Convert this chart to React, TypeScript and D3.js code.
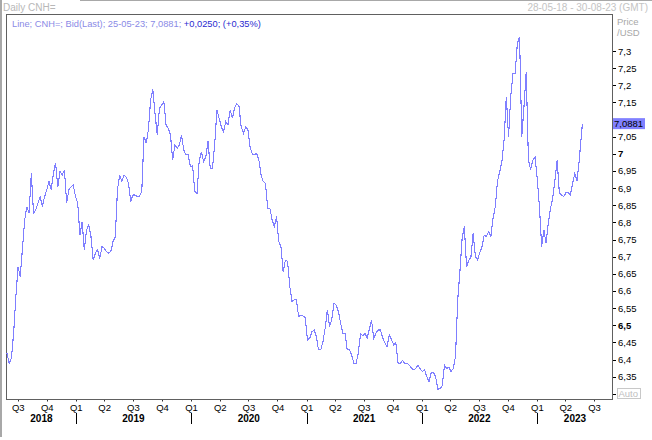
/** App.tsx - CNH= daily bid line chart */
import React from 'react';
import * as d3 from 'd3';

// weekly bids (Mondays), first week starts 28-05-18
const firstWeek = '2018-05-28';
const bids2018 = [
  6.418, 6.389, 6.404, 6.477, 6.583, 6.671, 6.642, 6.725, 6.807, 6.846, 6.827,
  6.943, 6.827, 6.836, 6.856, 6.875, 6.846, 6.875, 6.895, 6.919, 6.895, 6.943,
  6.974, 6.904, 6.948, 6.938, 6.953, 6.856, 6.895, 6.904, 6.909, 6.875,
];
const bids2019 = [
  6.856, 6.763, 6.802, 6.72, 6.778, 6.793, 6.759, 6.69, 6.71, 6.72, 6.695,
  6.729, 6.725, 6.715, 6.71, 6.715, 6.744, 6.758, 6.895, 6.938, 6.919, 6.938,
  6.932, 6.914, 6.861, 6.88, 6.88, 6.875, 6.877, 6.89, 7.05, 7.031, 7.07, 7.157,
  7.188, 7.118, 7.055, 7.133, 7.143, 7.152, 7.084, 7.075, 7.055, 6.982, 7.026,
  7.016, 7.026, 7.055, 7.011, 6.997, 6.997, 6.963,
];
const bids2020 = [
  6.965, 6.89, 6.885, 6.98, 7.006, 6.977, 6.992, 7.036, 6.958, 6.958, 7.026,
  7.128, 7.104, 7.079, 7.065, 7.094, 7.084, 7.128, 7.104, 7.133, 7.147, 7.138,
  7.079, 7.06, 7.078, 7.072, 7.021, 7.0, 6.997, 7.002, 6.982, 6.938, 6.919,
  6.914, 6.841, 6.841, 6.807, 6.788, 6.817, 6.744, 6.729, 6.656, 6.69, 6.686,
  6.613, 6.569, 6.574, 6.574, 6.525, 6.53, 6.527, 6.523,
];
const bids2021 = [
  6.457, 6.462, 6.481, 6.486, 6.467, 6.428, 6.428, 6.452, 6.491, 6.545, 6.496,
  6.516, 6.564, 6.559, 6.54, 6.506, 6.477, 6.477, 6.428, 6.428, 6.413, 6.389,
  6.389, 6.418, 6.475, 6.469, 6.477, 6.462, 6.488, 6.515, 6.462, 6.477, 6.486,
  6.486, 6.465, 6.449, 6.438, 6.472, 6.459, 6.443, 6.449, 6.389, 6.389, 6.397,
  6.389, 6.389, 6.384, 6.376, 6.37, 6.374, 6.384, 6.373,
];
const bids2022 = [
  6.365, 6.37, 6.35, 6.336, 6.362, 6.362, 6.35, 6.313, 6.316, 6.323, 6.384,
  6.374, 6.377, 6.365, 6.374, 6.409, 6.574, 6.657, 6.754, 6.788, 6.671, 6.689,
  6.7, 6.768, 6.7, 6.691, 6.712, 6.729, 6.763, 6.759, 6.773, 6.759, 6.812,
  6.846, 6.919, 6.948, 6.977, 7.041, 7.167, 7.05, 7.167, 7.235, 7.235, 7.323,
  7.34, 7.05, 7.138, 7.24, 6.982, 6.953, 6.982, 6.99,
];
const bids2023 = [
  6.926, 6.846, 6.729, 6.778, 6.739, 6.798, 6.841, 6.87, 6.924, 6.982, 6.885,
  6.88, 6.875, 6.887, 6.888, 6.88, 6.914, 6.943, 6.922, 6.982, 7.055,
];
const lastDate = '2023-05-25';
const lastBid = 7.0881;

const rangeStart = '2018-05-28';
const rangeEnd = '2023-08-30';
const headerMain = 'Line; CNH=; Bid(Last); 25-05-23; 7,0881; ';
const headerChange = '+0,0250; (+0,35%)';

const FONT = "Tahoma, 'Liberation Sans', Arial, sans-serif";

export default function App() {
  const svgRef = React.useRef<SVGSVGElement>(null);
  const width = 652;
  const height = 440;
  const frame = { left: 6.5, top: 14.5, right: 612.5, bottom: 399.5 };

  React.useEffect(() => {
    const parse = d3.timeParse('%Y-%m-%d');
    const start = parse(firstWeek) as Date;
    const weekly = [...bids2018, ...bids2019, ...bids2020, ...bids2021, ...bids2022, ...bids2023];
    const data: [Date, number][] = weekly.map((v, i) => [d3.timeDay.offset(start, i * 7), v]);
    data.push([parse(lastDate) as Date, lastBid]);

    const xScale = d3
      .scaleTime()
      .domain([parse(rangeStart) as Date, parse(rangeEnd) as Date])
      .range([7, 613]);
    const yScale = d3.scaleLinear().domain([6.3, 7.3]).range([393.8, 51]);

    const svgEl = d3.select(svgRef.current);
    svgEl.selectAll('*').remove();
    const svg = svgEl.append('g').attr('font-family', FONT);

    // window borders
    svg.append('rect').attr('x', 0).attr('y', 0).attr('width', 2).attr('height', 437).attr('fill', '#a8a8a8');
    svg.append('line').attr('x1', 80).attr('x2', width).attr('y1', 0.5).attr('y2', 0.5).attr('stroke', '#a8a8a8');

    svg
      .append('text')
      .attr('x', 3)
      .attr('y', 11)
      .attr('font-size', 10)
      .attr('fill', '#b8b8b8')
      .text('Daily CNH=');
    svg
      .append('text')
      .attr('x', 648)
      .attr('y', 11)
      .attr('text-anchor', 'end')
      .attr('font-size', 10)
      .attr('fill', '#c4c4c4')
      .text('28-05-18 - 30-08-23 (GMT)');

    // plot frame
    svg
      .append('rect')
      .attr('x', frame.left)
      .attr('y', frame.top)
      .attr('width', frame.right - frame.left)
      .attr('height', frame.bottom - frame.top)
      .attr('fill', '#fff')
      .attr('stroke', '#606060');

    const header = svg.append('text').attr('x', 12).attr('y', 27).attr('font-size', 9.3);
    header.append('tspan').attr('fill', '#8a8ae6').text(headerMain);
    header.append('tspan').attr('fill', '#2a2ad0').text(headerChange);

    // the line
    const line = d3
      .line<[Date, number]>()
      .x((d) => xScale(d[0]))
      .y((d) => yScale(d[1]));
    svg
      .append('path')
      .datum(data)
      .attr('fill', 'none')
      .attr('stroke', '#7f7fff')
      .attr('stroke-width', 1.1)
      .attr('shape-rendering', 'crispEdges')
      .attr('d', line);

    // right price axis
    const fmt = d3.formatLocale({ decimal: ',', thousands: '.', grouping: [3], currency: ['', ''] }).format('~g');
    const yLast = yScale(lastBid);
    const yTicks = yScale.ticks(20);
    // labels hidden behind the last-price marker and the Auto button are left out
    const labelTicks = yTicks.filter((d) => Math.abs(yScale(d) - yLast) > 8 && yScale(d) < 386);
    const yAxis = svg.append('g');
    yAxis
      .selectAll('line')
      .data(yTicks)
      .enter()
      .append('line')
      .attr('x1', 613)
      .attr('x2', 616)
      .attr('y1', (d) => Math.round(yScale(d)) + 0.5)
      .attr('y2', (d) => Math.round(yScale(d)) + 0.5)
      .attr('stroke', '#000');
    yAxis
      .selectAll('text')
      .data(labelTicks)
      .enter()
      .append('text')
      .attr('x', 618)
      .attr('y', (d) => yScale(d) + 3.5)
      .attr('font-size', 9.5)
      .attr('font-weight', (d) => (Math.abs(d * 2 - Math.round(d * 2)) < 1e-6 ? 'bold' : 'normal'))
      .attr('fill', '#000')
      .text((d) => fmt(d));

    svg.append('text').attr('x', 617).attr('y', 25).attr('font-size', 9.5).attr('fill', '#a8a8a8').text('Price');
    svg.append('text').attr('x', 617).attr('y', 36).attr('font-size', 9.5).attr('fill', '#a8a8a8').text('/USD');

    // last price marker
    svg
      .append('rect')
      .attr('x', 613)
      .attr('y', yLast - 5.5)
      .attr('width', 32)
      .attr('height', 11)
      .attr('fill', '#8080ff');
    svg
      .append('text')
      .attr('x', 614)
      .attr('y', yLast + 3.5)
      .attr('font-size', 9.5)
      .attr('fill', '#000')
      .text(fmt(lastBid));

    // Auto button
    svg
      .append('rect')
      .attr('x', 617.5)
      .attr('y', 388.5)
      .attr('width', 23)
      .attr('height', 10)
      .attr('fill', '#fff')
      .attr('stroke', '#c8c8c8');
    svg
      .append('text')
      .attr('x', 618.5)
      .attr('y', 397)
      .attr('font-size', 9.5)
      .attr('fill', '#c0c0c0')
      .text('Auto');

    // time axis: quarters and years
    const [d0, d1] = xScale.domain();
    const quarters = d3.timeMonth.every(3)!.range(d0, d1);
    const xAxis = svg.append('g');
    xAxis
      .selectAll('rect.qtick')
      .data(quarters)
      .enter()
      .append('rect')
      .attr('class', 'qtick')
      .attr('x', (d) => Math.round(xScale(d)))
      .attr('y', 400)
      .attr('width', 1)
      .attr('height', 1.5)
      .attr('fill', '#303030');
    xAxis
      .selectAll('text.q')
      .data(quarters)
      .enter()
      .append('text')
      .attr('class', 'q')
      .attr('x', (d) => xScale(d) + 0.5)
      .attr('y', 411)
      .attr('text-anchor', 'middle')
      .attr('font-size', 9.5)
      .attr('fill', '#000')
      .text((d) => `Q${Math.floor(d.getMonth() / 3) + 1}`);

    const yearStarts = d3.timeYear.range(d0, d1);
    xAxis
      .selectAll('line.y')
      .data(yearStarts)
      .enter()
      .append('line')
      .attr('class', 'y')
      .attr('x1', (d) => Math.round(xScale(d)) + 0.5)
      .attr('x2', (d) => Math.round(xScale(d)) + 0.5)
      .attr('y1', 413)
      .attr('y2', 424)
      .attr('stroke', '#000');
    const years = d3.range(d0.getFullYear(), d1.getFullYear() + 1);
    xAxis
      .selectAll('text.yr')
      .data(years)
      .enter()
      .append('text')
      .attr('class', 'yr')
      .attr('x', (yr) => {
        const a = Math.max(xScale(new Date(yr, 0, 1)), 7);
        const b = Math.min(xScale(new Date(yr + 1, 0, 1)), 613);
        return (a + b) / 2;
      })
      .attr('y', 422)
      .attr('text-anchor', 'middle')
      .attr('font-size', 10)
      .attr('font-weight', 'bold')
      .attr('fill', '#000')
      .text((yr) => String(yr));
  }, []);

  return (
    <svg
      ref={svgRef}
      width={width}
      height={height}
      style={{ position: 'absolute', left: 0, top: 0, background: '#fff' }}
    />
  );
}
